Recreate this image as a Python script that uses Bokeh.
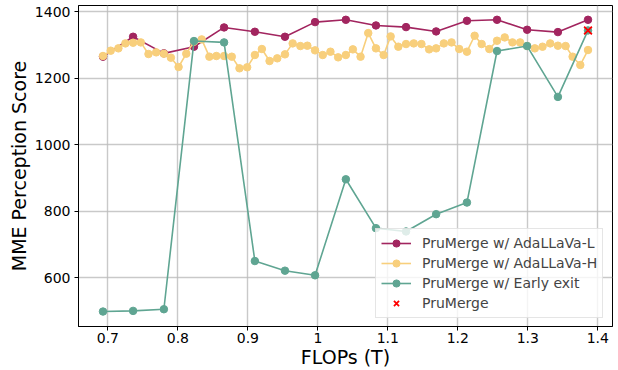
from bokeh.plotting import figure
from bokeh.models import FixedTicker, Range1d, Legend
from bokeh.embed import file_html
from bokeh.resources import INLINE

# FLOPs (T) for the coarse series
flops = [0.693, 0.736, 0.780, 0.823, 0.866, 0.910, 0.953, 0.996, 1.040,
         1.083, 1.126, 1.169, 1.213, 1.256, 1.299, 1.343, 1.386]
adallava_l = [1265, 1325, 1275, 1295, 1353, 1340, 1325, 1369, 1376,
              1359, 1354, 1341, 1373, 1376, 1346, 1339, 1376]
early_exit = [498, 500, 505, 1312, 1308, 650, 621, 607, 896,
              749, 739, 791, 826, 1282, 1297, 1144, 1344]

# FLOPs (T) for the dense series
flops_h = [0.693, 0.704, 0.715, 0.725, 0.736, 0.747, 0.758, 0.769, 0.780, 0.790,
           0.801, 0.812, 0.823, 0.834, 0.845, 0.855, 0.866, 0.877, 0.888, 0.899,
           0.910, 0.920, 0.931, 0.942, 0.953, 0.964, 0.975, 0.985, 0.996, 1.007,
           1.018, 1.029, 1.040, 1.050, 1.061, 1.072, 1.083, 1.094, 1.104, 1.115,
           1.126, 1.137, 1.148, 1.159, 1.169, 1.180, 1.191, 1.202, 1.213, 1.224,
           1.234, 1.245, 1.256, 1.267, 1.278, 1.289, 1.299, 1.310, 1.321, 1.332,
           1.343, 1.354, 1.364, 1.375, 1.386]
adallava_h = [1267, 1283, 1290, 1305, 1307, 1308, 1273, 1278, 1274, 1262,
              1234, 1274, 1310, 1317, 1265, 1267, 1267, 1265, 1230, 1233,
              1270, 1288, 1252, 1260, 1272, 1305, 1297, 1298, 1284, 1270,
              1280, 1263, 1270, 1287, 1265, 1336, 1290, 1270, 1326, 1295,
              1303, 1305, 1303, 1287, 1290, 1305, 1308, 1288, 1280, 1328,
              1303, 1288, 1313, 1323, 1308, 1308, 1297, 1290, 1295, 1305,
              1298, 1297, 1265, 1240, 1285]

prumerge_x = [1.386]
prumerge_y = [1344]

x_ticks = [0.7, 0.8, 0.9, 1.0, 1.1, 1.2, 1.3, 1.4]
y_ticks = [600, 800, 1000, 1200, 1400]

RED = "#a2255f"
YEL = "#f8cf7c"
GRN = "#5fa592"
FONT = "DejaVu Sans"

p = figure(width=618, height=370, output_backend="svg", toolbar_location=None,
           x_range=Range1d(0.658, 1.421), y_range=Range1d(453, 1419),
           min_border_left=78, min_border_right=6, min_border_top=5,
           min_border_bottom=44)

p.outline_line_color = "black"
p.outline_line_width = 1
p.background_fill_color = "white"
p.border_fill_color = "white"

p.xgrid.grid_line_color = "#bcbcbc"
p.ygrid.grid_line_color = "#bcbcbc"
p.xgrid.grid_line_width = 1.4
p.ygrid.grid_line_width = 1.4
p.xgrid.grid_line_alpha = 0.8
p.ygrid.grid_line_alpha = 0.8

p.xaxis.ticker = FixedTicker(ticks=x_ticks)
p.yaxis.ticker = FixedTicker(ticks=y_ticks)
for ax in (p.xaxis, p.yaxis):
    ax.minor_tick_line_color = None
    ax.major_tick_in = 0
    ax.major_tick_out = 4
    ax.major_label_text_font = FONT
    ax.major_label_text_font_size = "14px"
    ax.major_label_text_color = "black"
    ax.axis_label_text_font = FONT
    ax.axis_label_text_font_size = "19px"
    ax.axis_label_text_font_style = "normal"
    ax.axis_label_text_color = "black"
    ax.axis_line_color = "black"
    ax.major_tick_line_color = "black"

p.xaxis.axis_label = "FLOPs (T)"
p.yaxis.axis_label = "MME Perception Score"
p.xaxis.major_label_standoff = 2
p.xaxis.axis_label_standoff = 0
p.yaxis.major_label_standoff = 4
p.yaxis.axis_label_standoff = 2

r1 = p.line(flops, adallava_l, line_color=RED, line_width=1.6)
s1 = p.scatter(flops, adallava_l, marker="circle", size=7.5, fill_color=RED, line_color=RED)
r2 = p.line(flops_h, adallava_h, line_color=YEL, line_width=1.6)
s2 = p.scatter(flops_h, adallava_h, marker="circle", size=7.5, fill_color=YEL, line_color=YEL)
r3 = p.line(flops, early_exit, line_color=GRN, line_width=1.6)
s3 = p.scatter(flops, early_exit, marker="circle", size=7.5, fill_color=GRN, line_color=GRN)
s4 = p.scatter(prumerge_x, prumerge_y, marker="x", size=11, line_color="red", line_width=1.8)

legend = Legend(items=[
    ("PruMerge w/ AdaLLaVa-L", [r1, s1]),
    ("PruMerge w/ AdaLLaVa-H", [r2, s2]),
    ("PruMerge w/ Early exit", [r3, s3]),
    ("PruMerge", [s4]),
], location=(297, 8))
legend.label_text_font = FONT
legend.label_text_font_size = "14px"
legend.label_height = 18
legend.glyph_height = 18
legend.glyph_width = 30
legend.label_standoff = 11
legend.padding = 5
legend.spacing = 2
legend.margin = 0
legend.border_line_color = "#cccccc"
legend.border_line_width = 1
legend.background_fill_alpha = 0.8
p.add_layout(legend, "center")

open("out.html", "w").write(file_html(p, INLINE))
